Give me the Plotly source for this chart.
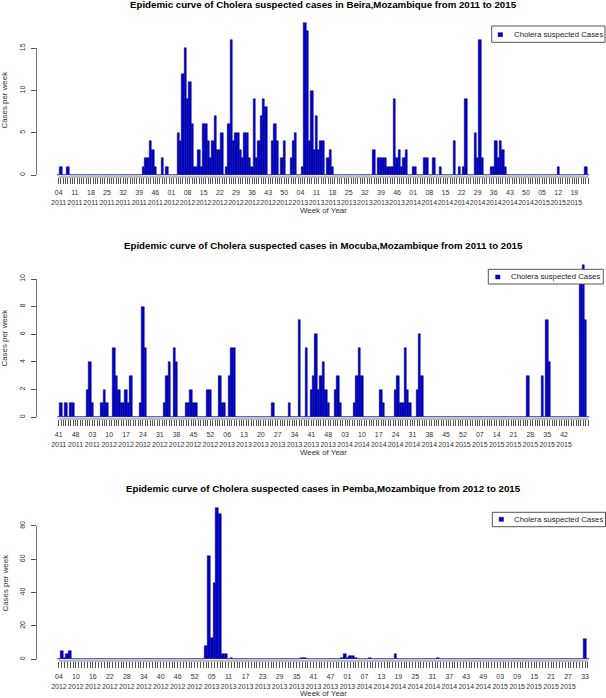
import plotly.graph_objects as go

FIG_W, FIG_H = 606, 698
BAR_COLOR = "#0000CD"
EDGE_COLOR = "#00007a"
FONT = "Liberation Sans, Arial, sans-serif"
LEGEND_NAME = "Cholera suspected Cases"

# ---------------- Beira (weekly cases, 04/2011 onwards; one row = 7 weeks) ----------------
beira_title = "Epidemic curve of Cholera suspected cases in Beira,Mozambique from 2011 to 2015"
beira_cases = [
    0, 1, 0, 0, 1, 0, 0,
    0, 0, 0, 0, 0, 0, 0,
    0, 0, 0, 0, 0, 0, 0,
    0, 0, 0, 0, 0, 0, 0,
    0, 0, 0, 0, 0, 0, 0,
    0, 0, 1, 2, 2, 4, 3,
    1, 0, 0, 2, 0, 1, 0,
    0, 0, 0, 5, 4, 12, 15,
    9, 11, 6, 1, 1, 3, 1,
    6, 6, 4, 2, 4, 7, 3,
    3, 5, 0, 1, 6, 16, 4,
    5, 5, 3, 2, 5, 5, 2,
    1, 9, 2, 4, 7, 9, 8,
    0, 0, 4, 6, 4, 0, 2,
    4, 0, 0, 2, 4, 5, 0,
    0, 1, 18, 17, 4, 10, 3,
    7, 3, 4, 4, 0, 2, 3,
    1, 0, 0, 0, 0, 0, 0,
    0, 0, 0, 0, 0, 0, 0,
    0, 0, 0, 0, 3, 0, 2,
    2, 2, 2, 1, 1, 1, 9,
    2, 3, 1, 2, 3, 0, 0,
    1, 1, 0, 0, 0, 2, 2,
    0, 0, 2, 0, 0, 1, 0,
    0, 0, 0, 0, 4, 0, 1,
    0, 1, 9, 0, 0, 0, 5,
    2, 16, 2, 0, 0, 0, 1,
    1, 4, 2, 4, 3, 1, 0,
    0, 0, 0, 0, 0, 0, 0,
    0, 0, 0, 0, 0, 0, 0,
    0, 0, 0, 0, 0, 0, 0,
    1, 0, 0, 0, 0, 0, 0,
    0, 0, 0, 0, 0, 1, 0,
]
beira_tick_weeks = ["04", "11", "18", "25", "32", "39", "46",
                    "01", "08", "15", "22", "29", "36", "43", "50",
                    "04", "11", "18", "25", "32", "39", "46",
                    "01", "08", "15", "22", "29", "36", "43", "50",
                    "05", "12", "19"]
beira_tick_years = ["2011"] * 7 + ["2012"] * 8 + ["2013"] * 7 + ["2014"] * 8 + ["2015"] * 3
beira_yticks = [0, 5, 10, 15]

# ---------------- Mocuba (weekly cases, 41/2011 onwards) ----------------
mocuba_title = "Epidemic curve of Cholera suspected cases in Mocuba,Mozambique from 2011 to 2015"
mocuba_cases = [
    0, 1, 0, 1, 0, 1, 1,
    0, 0, 0, 0, 0, 2, 4,
    1, 0, 0, 0, 1, 2, 1,
    0, 0, 5, 3, 2, 1, 1,
    2, 1, 3, 0, 0, 0, 1,
    8, 5, 0, 0, 0, 0, 0,
    0, 0, 1, 3, 4, 0, 5,
    4, 0, 0, 0, 1, 1, 2,
    1, 1, 0, 0, 0, 0, 2,
    2, 0, 0, 0, 3, 1, 1,
    0, 3, 5, 5, 0, 0, 0,
    0, 0, 0, 0, 0, 0, 0,
    0, 0, 0, 0, 0, 1, 0,
    0, 0, 0, 0, 0, 1, 0,
    0, 0, 7, 0, 0, 5, 0,
    2, 3, 6, 2, 3, 4, 2,
    1, 0, 0, 2, 3, 1, 0,
    0, 0, 0, 0, 1, 3, 5,
    3, 0, 0, 0, 0, 0, 0,
    0, 2, 1, 0, 0, 0, 0,
    2, 3, 1, 1, 5, 2, 1,
    0, 0, 2, 6, 3, 0, 0,
    0, 0, 0, 0, 0, 0, 0,
    0, 0, 0, 0, 0, 0, 0,
    0, 0, 0, 0, 0, 0, 0,
    0, 0, 0, 0, 0, 0, 0,
    0, 0, 0, 0, 0, 0, 0,
    0, 0, 0, 0, 0, 0, 3,
    0, 0, 0, 0, 0, 3, 0,
    7, 4, 0, 0, 0, 0, 0,
    0, 0, 0, 0, 0, 0, 0,
    10, 11, 7, 0,
]
mocuba_tick_weeks = ["41", "48", "03",
                     "10", "17", "24", "31", "38", "45", "52",
                     "06", "13", "20", "27", "34", "41", "48",
                     "03", "10", "17", "24", "31", "38", "45",
                     "52", "07", "14", "21", "28", "35", "42"]
mocuba_tick_years = ["2011"] * 3 + ["2012"] * 7 + ["2013"] * 7 + ["2014"] * 7 + ["2015"] * 7
mocuba_yticks = [0, 2, 4, 6, 8, 10]

# ---------------- Pemba (weekly cases, 04/2012 onwards; one row = 6 weeks) ----------------
pemba_title = "Epidemic curve of Cholera suspected cases in Pemba,Mozambique from 2012 to 2015"
pemba_cases = [
    0, 5, 1, 3, 5, 0,
    0, 0, 0, 0, 0, 0,
    0, 0, 0, 0, 0, 0,
    0, 0, 0, 0, 0, 0,
    0, 0, 0, 0, 0, 0,
    0, 0, 0, 0, 0, 0,
    0, 0, 0, 0, 0, 0,
    0, 0, 0, 0, 0, 0,
    0, 0, 0, 0, 8, 62,
    13, 46, 91, 87, 3, 3,
    0, 1, 0, 0, 0, 0,
    0, 0, 0, 0, 0, 0,
    0, 0, 0, 0, 0, 0,
    0, 0, 0, 0, 0, 0,
    0, 0, 1, 1, 0, 0,
    0, 0, 0, 0, 0, 0,
    0, 0, 0, 0, 1, 3,
    1, 2, 2, 1, 0, 0,
    0, 0, 1, 0, 0, 0,
    0, 0, 0, 0, 0, 3,
    0, 0, 0, 0, 0, 0,
    0, 0, 0, 0, 0, 0,
    0, 0, 1, 0, 0, 0,
    0, 0, 0, 0, 0, 0,
    0, 0, 0, 0, 0, 0,
    0, 0, 0, 0, 0, 0,
    0, 0, 0, 0, 0, 0,
    0, 0, 0, 0, 0, 0,
    0, 0, 0, 0, 0, 0,
    0, 0, 0, 0, 0, 0,
    0, 0, 0, 0, 0, 0,
    12, 0,
]
pemba_tick_weeks = ["04", "10", "16", "22", "28", "34", "40", "46", "52",
                    "05", "11", "17", "23", "29", "35", "41", "47", "01",
                    "07", "13", "19", "25", "31", "37", "43", "49",
                    "03", "09", "15", "21", "27", "33"]
pemba_tick_years = ["2012"] * 9 + ["2013"] * 9 + ["2014"] * 8 + ["2015"] * 5 + [""]
pemba_yticks = [0, 20, 40, 60, 80]

# ---------------- layout geometry (pixels) ----------------
PLOT_LEFT_PX = 36.5
BARS_LEFT_PX = 57.5
BARS_RIGHT_PX = 589.3
CENTER_PX = (BARS_LEFT_PX + BARS_RIGHT_PX) / 2

panels = [
    dict(cases=beira_cases, weeks=beira_tick_weeks, years=beira_tick_years, step=7,
         yticks=beira_yticks, title=beira_title,
         zero_px=175.0, unit_px=8.447, top_px=15.0, axis_px=177.0,
         title_px=5.0, xlab_px=210.5, ylab_px=100.0,
         legend_box=(491.7, 605.0, 26.0, 42.3), legend_mark=(500.3, 34.7), legend_text=(511.5, 34.6)),
    dict(cases=mocuba_cases, weeks=mocuba_tick_weeks, years=mocuba_tick_years, step=7,
         yticks=mocuba_yticks, title=mocuba_title,
         zero_px=417.3, unit_px=13.83, top_px=258.0, axis_px=419.0,
         title_px=246.0, xlab_px=452.7, ylab_px=338.0,
         legend_box=(488.3, 603.3, 269.3, 284.0), legend_mark=(497.8, 277.0), legend_text=(509.0, 276.8)),
    dict(cases=pemba_cases, weeks=pemba_tick_weeks, years=pemba_tick_years, step=6,
         yticks=pemba_yticks, title=pemba_title,
         zero_px=659.3, unit_px=1.667, top_px=500.0, axis_px=661.0,
         title_px=488.3, xlab_px=693.6, ylab_px=583.0,
         legend_box=(492.3, 605.5, 512.3, 526.7), legend_mark=(501.3, 519.3), legend_text=(512.3, 519.4)),
]

fig = go.Figure()
layout = dict(
    width=FIG_W, height=FIG_H, autosize=False,
    margin=dict(l=0, r=0, t=0, b=0, pad=0),
    paper_bgcolor="white", plot_bgcolor="white",
    font=dict(family=FONT, color="#222"),
    bargap=0, showlegend=False,
)
annotations = []
shapes = []


def px_x(v):
    return v / FIG_W


def px_y(v):
    return 1 - v / FIG_H


for k, p in enumerate(panels, start=1):
    sfx = "" if k == 1 else str(k)
    xa, ya = "x" + sfx, "y" + sfx
    n = len(p["cases"])
    bw = (BARS_RIGHT_PX - BARS_LEFT_PX) / n
    xr = [-0.5 - (BARS_LEFT_PX - PLOT_LEFT_PX) / bw,
          n - 0.5 + (FIG_W - BARS_RIGHT_PX) / bw]
    yr = [-(p["axis_px"] - p["zero_px"]) / p["unit_px"],
          (p["zero_px"] - p["top_px"]) / p["unit_px"]]

    fig.add_trace(go.Bar(
        x=list(range(n)), y=p["cases"], width=1,
        marker=dict(color=BAR_COLOR, line=dict(color=EDGE_COLOR, width=0.5)),
        xaxis=xa, yaxis=ya, name=LEGEND_NAME,
    ))

    ticktext = []
    for i in range(n):
        if i % p["step"] == 0 and i // p["step"] < len(p["weeks"]):
            j = i // p["step"]
            w, yv = p["weeks"][j], p["years"][j]
            ticktext.append(f"{w}<br>{yv}" if yv else w)
        else:
            ticktext.append("")

    layout["xaxis" + sfx] = dict(
        domain=[px_x(PLOT_LEFT_PX), 1.0], range=xr, anchor=ya,
        tickmode="array", tickvals=list(range(n)), ticktext=ticktext,
        ticks="outside", ticklen=6, tickwidth=0.6, tickcolor="#555",
        tickangle=0, tickfont=dict(size=7.0, color="#333", family=FONT),
        ticklabelstandoff=3,
        showline=False, showgrid=False, zeroline=False, fixedrange=True,
        automargin=False,
    )
    layout["yaxis" + sfx] = dict(
        domain=[px_y(p["axis_px"]), px_y(p["top_px"])], range=yr, anchor=xa,
        tickmode="array", tickvals=p["yticks"], ticktext=[str(v) for v in p["yticks"]],
        ticks="outside", ticklen=5, tickwidth=0.7, tickcolor="#555",
        tickangle=-90, tickfont=dict(size=7.0, color="#333", family=FONT),
        ticklabelstandoff=3,
        showline=False, showgrid=False, zeroline=False, fixedrange=True,
        automargin=False,
    )
    # axis lines spanning only the ticked extent (base-R style)
    shapes.append(dict(type="line", xref=xa, yref=ya + " domain",
                       x0=0, x1=n - 1, y0=0, y1=0,
                       line=dict(color="#555", width=0.8)))
    shapes.append(dict(type="line", xref=xa + " domain", yref=ya,
                       x0=0, x1=0, y0=p["yticks"][0], y1=p["yticks"][-1],
                       line=dict(color="#555", width=0.8)))

    # legend box (drawn above the bars, as in the original)
    bx0, bx1, by0, by1 = p["legend_box"]
    shapes.append(dict(type="rect", xref="paper", yref="paper", layer="above",
                       x0=px_x(bx0), x1=px_x(bx1), y0=px_y(by1), y1=px_y(by0),
                       fillcolor="white", line=dict(color="#555", width=1)))
    mx, my = p["legend_mark"]
    shapes.append(dict(type="rect", xref="paper", yref="paper", layer="above",
                       x0=px_x(mx - 2.2), x1=px_x(mx + 2.2), y0=px_y(my + 2.0), y1=px_y(my - 2.0),
                       fillcolor=BAR_COLOR, line=dict(color=EDGE_COLOR, width=0.5)))
    tx, ty = p["legend_text"]
    annotations.append(dict(
        text=LEGEND_NAME, xref="paper", yref="paper",
        x=px_x(tx), y=px_y(ty), xanchor="left", yanchor="middle", showarrow=False,
        font=dict(size=7.8, color="#222", family=FONT),
    ))

    annotations.append(dict(
        text="<b>" + p["title"] + "</b>", xref="paper", yref="paper",
        x=px_x(CENTER_PX), y=px_y(p["title_px"]),
        xanchor="center", yanchor="middle", showarrow=False,
        font=dict(size=9.7, color="black", family=FONT),
    ))
    annotations.append(dict(
        text="Week of Year", xref="paper", yref="paper",
        x=px_x(CENTER_PX), y=px_y(p["xlab_px"]),
        xanchor="center", yanchor="middle", showarrow=False,
        font=dict(size=7.9, color="#333", family=FONT),
    ))
    annotations.append(dict(
        text="Cases per week", xref="paper", yref="paper",
        x=px_x(4.5), y=px_y(p["ylab_px"]), textangle=-90,
        xanchor="center", yanchor="middle", showarrow=False,
        font=dict(size=7.9, color="#333", family=FONT),
    ))

layout["annotations"] = annotations
layout["shapes"] = shapes
fig.update_layout(**layout)
fig.write_html(
    "out.html",
    config={"displayModeBar": False},
    post_script="document.body.style.margin='0px';document.body.style.padding='0px';",
)
